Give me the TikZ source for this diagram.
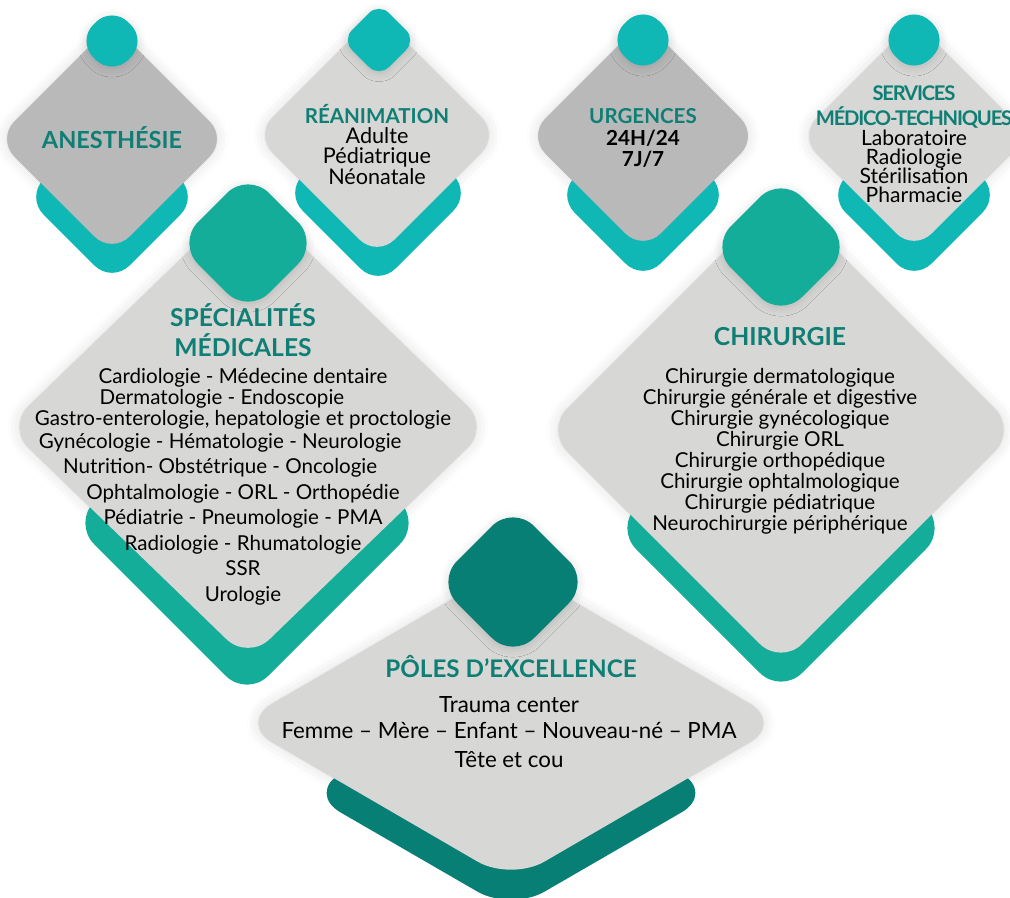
\documentclass[tikz,border=0pt]{standalone}
\usepackage{fontspec}
\setmainfont{Lato}
\usetikzlibrary{shadows.blur}
\definecolor{capcyan}{HTML}{0FB8B5}
\definecolor{capgreen}{HTML}{14AD99}
\definecolor{capdark}{HTML}{077F75}
\definecolor{titleteal}{HTML}{0F7F75}
\definecolor{greydark}{HTML}{B9B9B9}
\definecolor{greylight}{HTML}{D7D7D5}
% rounded diamond: style, centre x, centre y, half width, half height
\newcommand{\losange}[5]{\fill[#1] (#2,#3-#5) -- (#2+#4,#3) -- (#2,#3+#5) -- (#2-#4,#3) -- cycle;}
% lines closer than their height
\newcommand{\tightlines}{\lineskiplimit-20pt\relax}

\begin{document}
\begin{tikzpicture}[x=0.02cm, y=-0.02cm,
  haze/.style={fill=#1, rounded corners=14pt, blur shadow={shadow xshift=0pt, shadow yshift=0pt, shadow blur radius=7pt, shadow opacity=14}},
  back/.style={fill=#1, rounded corners=14pt},
  tile/.style={fill=#1, rounded corners=14pt},
  cap/.style={fill=#1, rounded corners=13pt, blur shadow={shadow xshift=0pt, shadow yshift=-1pt, shadow blur radius=5pt, shadow opacity=14}},
  title/.style={font=\bfseries\fontsize{11.7}{14}\selectfont, text=titleteal, align=center, anchor=base, inner sep=0pt},
  body/.style={font=\fontsize{12.3}{11.6}\selectfont\tightlines, align=center, anchor=base, inner sep=0pt}]
\useasboundingbox (0,0) rectangle (1010,897);
% multi-line nodes are placed at the baseline of their last line
% the shadow is drawn first so that the teal back hides it

% top row
\losange{haze=greydark}{112}{139}{115}{115}
\losange{back=capcyan}{112}{197}{86}{86}
\losange{tile=greydark}{112}{139}{115}{115}
\losange{cap=capcyan}{112}{41}{35}{35}
\node[title, font=\bfseries\fontsize{13.4}{15}\selectfont] (anesth) at (112,148) {ANESTHÉSIE};

\losange{haze=greylight}{377}{135}{122}{122}
\losange{back=capcyan}{378}{193}{93}{93}
\losange{tile=greylight}{377}{135}{122}{122}
\losange{cap=capcyan, rounded corners=8pt}{379}{40}{37}{37}
\node[title] (reanim) at (377,123) {RÉANIMATION};
\node[body] (reanimtxt) at (377,184) {Adulte\\Pédiatrique\\Néonatale};

\losange{haze=greydark}{643}{136}{115}{115}
\losange{back=capcyan}{643}{195}{86}{86}
\losange{tile=greydark}{643}{136}{115}{115}
\losange{cap=capcyan}{643}{40}{35}{35}
\node[title] (urgences) at (643,123) {URGENCES};
\node[body, font=\bfseries\fontsize{11.8}{11.4}\selectfont\tightlines] (urgtxt) at (643,166) {24H/24\\7J/7};

\losange{haze=greylight}{914}{136}{115}{115}
\losange{back=capcyan}{914}{195}{86}{86}
\losange{tile=greylight}{914}{136}{115}{115}
\losange{cap=capcyan}{914}{40}{35}{35}
\node[title, font=\bfseries\fontsize{11.5}{14}\selectfont\addfontfeatures{LetterSpace=-6}] (services) at (914,125) {SERVICES\\MÉDICO-TECHNIQUES};
\node[body, font=\fontsize{12}{10.8}\selectfont\tightlines] (servtxt) at (914,202) {Laboratoire\\Radiologie\\Stérilisation\\Pharmacie};

% the two large ones
\losange{haze=greylight, rounded corners=17pt}{248}{427}{241}{233}
\losange{back=capgreen, rounded corners=17pt}{247}{523}{174}{174}
\losange{tile=greylight, rounded corners=17pt}{248}{427}{241}{233}
\losange{cap=capgreen, rounded corners=17pt}{248}{243}{71}{71}
\node[title, font=\bfseries\fontsize{14}{17}\selectfont] (specia) at (243,356) {SPÉCIALITÉS\\MÉDICALES};
\node[body, font=\fontsize{11.7}{11.9}\selectfont\tightlines] (speciatxt) at (243,601) {Cardiologie - Médecine dentaire\\
  Dermatologie - Endoscopie\hspace*{24pt}\null\\
  Gastro-enterologie, hepatologie et proctologie\\[1.1pt]
  Gynécologie - Hématologie - Neurologie\hspace*{26pt}\null\\[2.6pt]
  Nutrition- Obstétrique - Oncologie\hspace*{26pt}\null\\[2.6pt]
  Ophtalmologie - ORL - Orthopédie\\[2.6pt]
  Pédiatrie - Pneumologie - PMA\\[2.6pt]
  Radiologie - Rhumatologie\\[2.6pt]
  SSR\\[2.6pt]
  Urologie};

\losange{haze=greylight, rounded corners=17pt}{781}{430}{235}{235}
\losange{back=capgreen, rounded corners=17pt}{781}{528}{166}{166}
\losange{tile=greylight, rounded corners=17pt}{781}{430}{235}{235}
\losange{cap=capgreen, rounded corners=17pt}{781}{247}{71}{71}
\node[title, font=\bfseries\fontsize{14.1}{16}\selectfont] (chir) at (780,345) {CHIRURGIE};
\node[body, font=\fontsize{11.7}{11.9}\selectfont\tightlines] (chirtxt) at (780,530) {Chirurgie dermatologique\\
  Chirurgie générale et digestive\\
  Chirurgie gynécologique\\
  Chirurgie ORL\\
  Chirurgie orthopédique\\
  Chirurgie ophtalmologique\\
  Chirurgie pédiatrique\\
  Neurochirurgie périphérique};

% bottom, flattened
\losange{haze=greylight, rounded corners=22pt}{511}{723}{272}{158}
\losange{back=capdark, rounded corners=22pt}{511}{793}{204}{118}
\losange{tile=greylight, rounded corners=22pt}{511}{723}{272}{158}
\losange{cap=capdark, rounded corners=17pt}{513}{582}{77}{77}
\node[title, font=\bfseries\fontsize{13.8}{16}\selectfont] (poles) at (511,677) {PÔLES D’EXCELLENCE};
\node[body, font=\fontsize{12.7}{14.7}\selectfont\tightlines] (polestxt) at (509,767) {Trauma center\\
  Femme – Mère – Enfant – Nouveau-né – PMA\\[1.7pt]
  Tête et cou};
\end{tikzpicture}
\end{document}
